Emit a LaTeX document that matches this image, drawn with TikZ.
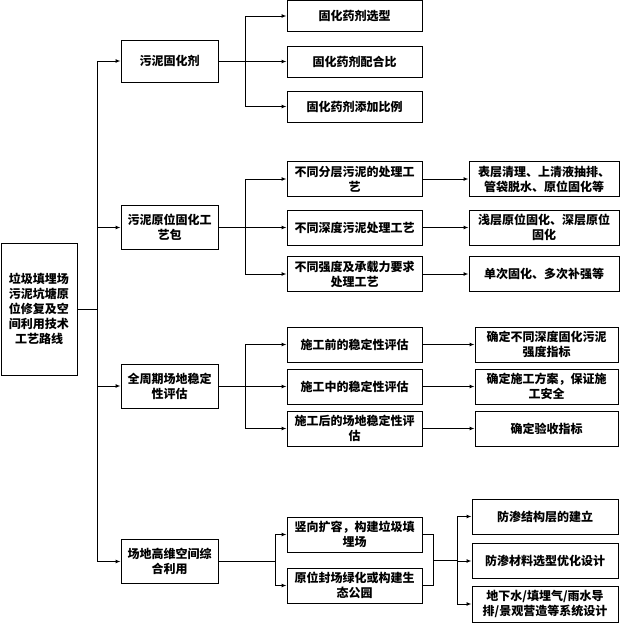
\documentclass[tikz,border=0pt]{standalone}
\usepackage{fontspec}
\newfontfamily\cjk{Noto Sans CJK SC}
\usetikzlibrary{arrows.meta,positioning,calc}

\begin{document}
\begin{tikzpicture}[x=1pt, y=-1pt, >={Latex[length=5pt,width=4pt]}, line width=1pt,
  box/.style={draw, align=center, inner sep=1pt, font=\cjk\bfseries\fontsize{12}{15}\selectfont},
  topbox/.style={box, minimum width=97pt, minimum height=44pt},
  midbox/.style={box, minimum width=135pt, minimum height=35pt},
  endbox/.style={box, minimum height=35pt}]
  \useasboundingbox (0,0) rectangle (620,624);

  % root and first level
  \node[box, minimum width=76pt, minimum height=132pt] (route) at (39,309) {垃圾填埋场\\污泥坑塘原\\位修复及空\\间利用技术\\工艺路线};
  \node[topbox, minimum height=42pt] (agent) at (169.5,61) {污泥固化剂};
  \node[topbox] (process) at (169.5,227.5) {污泥原位固化工\\艺包};
  \node[topbox] (stable) at (169.5,386) {全周期场地稳定\\性评估};
  \node[topbox] (space) at (169.5,561.5) {场地高维空间综\\合利用};

  % solidifying agent
  \node[midbox, minimum height=31pt] (agentA) at (354.5,16) {固化药剂选型};
  \node[midbox, minimum height=31pt] (agentB) at (354.5,61.5) {固化药剂配合比};
  \node[midbox, minimum height=31pt] (agentC) at (354.5,106.5) {固化药剂添加比例};

  % in-situ process
  \node[midbox] (procA) at (354.5,179) {不同分层污泥的处理工\\艺};
  \node[midbox] (procB) at (354.5,227.5) {不同深度污泥处理工艺};
  \node[midbox] (procC) at (354.5,274) {不同强度及承载力要求\\处理工艺};
  \node[endbox, minimum width=150pt, right=46pt of procA] (wayA) {表层清理、上清液抽排、\\管袋脱水、原位固化等};
  \node[endbox, minimum width=150pt, right=46pt of procB] (wayB) {浅层原位固化、深层原位\\固化};
  \node[endbox, minimum width=150pt, right=46pt of procC] (wayC) {单次固化、多次补强等};

  % stability
  \node[midbox] (stabA) at (354.5,344.5) {施工前的稳定性评估};
  \node[midbox] (stabB) at (354.5,386.5) {施工中的稳定性评估};
  \node[midbox] (stabC) at (354.5,428.5) {施工后的场地稳定性评\\估};
  \node[endbox, minimum width=143pt, right=52pt of stabA] (aimA) {确定不同深度固化污泥\\强度指标};
  \node[endbox, minimum width=143pt, right=52pt of stabB] (aimB) {确定施工方案，保证施\\工安全};
  \node[endbox, minimum width=143pt, right=52pt of stabC] (aimC) {确定验收指标};

  % space use
  \node[midbox] (useA) at (354.5,534.5) {竖向扩容，构建垃圾填\\埋场};
  \node[midbox] (useB) at (354.5,585.5) {原位封场绿化或构建生\\态公园};
  \node[endbox, minimum width=146pt] (sysA) at (545,516.5) {防渗结构层的建立};
  \node[endbox, minimum width=146pt] (sysB) at (545,561) {防渗材料选型优化设计};
  \node[endbox, minimum width=146pt, minimum height=36pt] (sysC) at (545,604) {地下水/填埋气/雨水导\\排/景观营造等系统设计};

  % connectors
  \foreach \n in {agent,process,stable,space}
    \draw[->] (route.east) -- ++(20,0) |- (\n.west);
  \foreach \n in {agentA,agentB,agentC}
    \draw[->] (agent.east) -- ++(27,0) |- (\n.west);
  \foreach \n in {procA,procB,procC}
    \draw[->] (process.east) -- ++(27,0) |- (\n.west);
  \foreach \n in {stabA,stabB,stabC}
    \draw[->] (stable.east) -- ++(27,0) |- (\n.west);
  \foreach \n in {useA,useB}
    \draw[->] (space.east) -- ++(57,0) |- (\n.west);
  \foreach \a/\b in {procA/wayA,procB/wayB,procC/wayC,stabA/aimA,stabB/aimB,stabC/aimC}
    \draw[->] (\a) -- (\b);
  \draw (useA.east) -- ++(11,0) |- (useB.east);
  \coordinate (join) at ($(useA.east)!0.5!(useB.east)+(11,0)$);
  \foreach \n in {sysA,sysB,sysC}
    \draw[->] (join) -- ++(24,0) |- (\n.west);
\end{tikzpicture}
\end{document}
